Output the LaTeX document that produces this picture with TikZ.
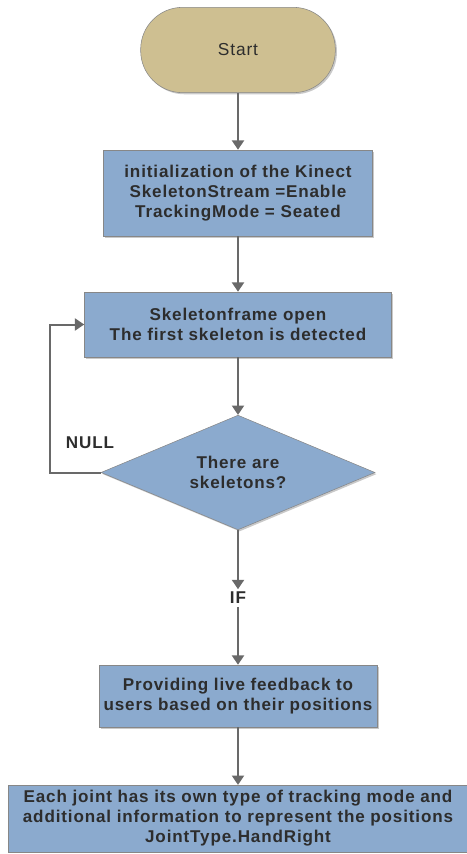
\documentclass[tikz,border=0pt]{standalone}
\usepackage{fontspec}
\setmainfont{Liberation Sans}[LetterSpace=5]
\usetikzlibrary{arrows.meta, shapes.geometric, shadows}
\definecolor{StartSand}{RGB}{206, 191, 145}
\definecolor{BoxBlue}{RGB}{139, 170, 206}
\definecolor{LineGrey}{RGB}{105, 105, 105}
\definecolor{TextGrey}{RGB}{45, 45, 45}

\begin{document}
\begin{tikzpicture}[x=0.75pt, y=-0.75pt,
	shd/.style={drop shadow={shadow xshift=1.2pt, shadow yshift=-1.2pt, opacity=0.3, fill=black!70}},
	term/.style={rectangle, rounded corners=31.5pt, draw=LineGrey!80, fill=StartSand, shd,
		minimum width=146pt, minimum height=64pt, text=TextGrey, font=\fontsize{13}{15}\selectfont},
	proc/.style={rectangle, draw=LineGrey!80, fill=BoxBlue, shd, align=center, inner sep=2pt,
		text=TextGrey, font=\bfseries\fontsize{12.8}{15}\selectfont},
	dec/.style={diamond, aspect=2.4, draw=LineGrey!80, fill=BoxBlue, shd, align=center, inner sep=0pt,
		minimum width=205.5pt, minimum height=86pt, text=TextGrey, font=\bfseries\fontsize{12.8}{15}\selectfont},
	lbl/.style={inner sep=2pt, text=TextGrey, font=\bfseries\fontsize{12.8}{15}\selectfont},
	fl/.style={-{Triangle[length=7pt, width=9pt]}, line width=1.5pt, LineGrey}]
	\useasboundingbox (0,0) rectangle (467,854);
	\node[term] (start) at (238,50) {Start};
	\node[proc, minimum width=201.75pt, minimum height=64.5pt] (init) at (238,193)
		{initialization of the Kinect\\SkeletonStream =Enable\\TrackingMode = Seated};
	\node[proc, minimum width=230.25pt, minimum height=48.75pt] (frame) at (238,324.5)
		{Skeletonframe open\\The first skeleton is detected};
	\node[dec] (skel) at (238,472.5) {There are\\skeletons?};
	\node[lbl] (null) at (90,443) {NULL};
	\node[lbl] (if) at (238,598) {IF};
	\node[proc, minimum width=208.5pt, minimum height=46.5pt] (feed) at (238,696)
		{Providing live feedback to\\users based on their positions};
	\node[proc, minimum width=345pt, minimum height=50pt] (joint) at (238,818.5)
		{Each joint has its own type of tracking mode and\\additional information to represent the positions\\JointType.HandRight};
	\draw[fl] (start) -- (init);
	\draw[fl] (init) -- (frame);
	\draw[fl] (frame) -- (skel);
	\draw[fl] (skel.west) -- ++(-51,0) |- (frame.west);
	\draw[fl] (skel) -- (if);
	\draw[fl] (if) -- (feed);
	\draw[fl] (feed) -- (joint);
\end{tikzpicture}
\end{document}
